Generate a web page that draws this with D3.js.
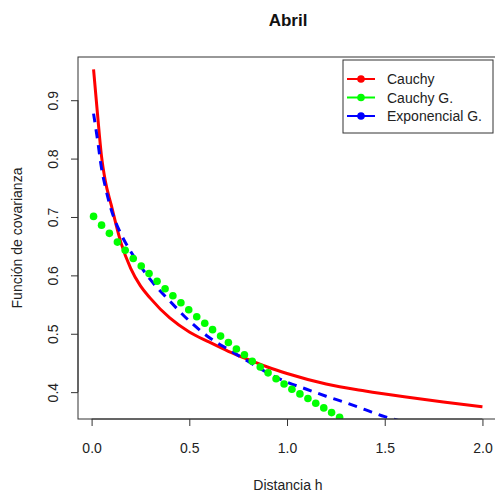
<!DOCTYPE html>
<html><head><meta charset="utf-8">
<script src="https://cdn.jsdelivr.net/npm/d3@7"></script>
<style>body{margin:0;background:#fff}svg{display:block;font-family:"Liberation Sans",Arial,sans-serif}</style>
</head><body><svg id="c" width="495" height="493"></svg>
<script>
const title = "Abril";
const xLabel = "Distancia h";
const yLabel = "Función de covarianza";
const xTicks = [0.0, 0.5, 1.0, 1.5, 2.0];
const yTicks = [0.4, 0.5, 0.6, 0.7, 0.8, 0.9];
const seriesNames = ["Cauchy", "Cauchy G.", "Exponencial G."];
const seriesColors = ["#ff0000", "#00ff00", "#0000ff"];

// Cauchy (solid red line)
const cauchyH = [0.01,0.03,0.05,0.07,0.1,0.15,0.2,0.25,0.3,0.4,0.5,0.6,0.7,0.8,0.9,1.0,1.2,1.4,1.6,1.8,2.0];
const cauchyV = [0.953,0.877,0.806,0.762,0.721,0.656,0.612,0.582,0.561,0.527,0.503,0.486,0.470,0.456,0.443,0.432,0.414,0.402,0.392,0.383,0.375];

// Cauchy G. (green points)
const cauchyGH = [0.010,0.051,0.091,0.132,0.172,0.213,0.254,0.294,0.335,0.376,0.416,0.457,0.497,0.538,0.579,0.619,0.660,0.700,0.741,0.782,0.822,0.863,0.903,0.944,0.985,1.025,1.066,1.107,1.147,1.188,1.228,1.269];
const cauchyGV = [0.701,0.686,0.672,0.657,0.643,0.629,0.616,0.603,0.590,0.577,0.565,0.553,0.541,0.529,0.518,0.507,0.496,0.485,0.474,0.464,0.453,0.443,0.433,0.423,0.414,0.405,0.397,0.389,0.381,0.373,0.365,0.357];

// Exponencial G. (dashed blue line)
const expGH = [0.01,0.03,0.05,0.07,0.1,0.15,0.2,0.25,0.3,0.4,0.5,0.6,0.7,0.8,0.9,1.0,1.1,1.2,1.3,1.4,1.5,1.6];
const expGV = [0.877,0.833,0.785,0.752,0.713,0.671,0.641,0.616,0.593,0.556,0.522,0.494,0.473,0.453,0.433,0.417,0.405,0.393,0.382,0.370,0.358,0.349];

const svg = d3.select("#c");
const L = 78, R = 498, T = 57, B = 419;
const x = d3.scaleLinear().domain([-0.0696, 2.0796]).range([L, R]);
const y = d3.scaleLinear().domain([0.354, 0.974]).range([B, T]);
const FONT = "Liberation Sans, Arial, sans-serif";

svg.append("defs").append("clipPath").attr("id","clip")
  .append("rect").attr("x",L).attr("y",T).attr("width",R-L).attr("height",B-T);

const g = svg.append("g").attr("clip-path","url(#clip)");

const line = d3.line().x(d=>x(d[0])).y(d=>y(d[1])).curve(d3.curveMonotoneX);

g.append("path").datum(cauchyH.map((h,i)=>[h,cauchyV[i]]))
  .attr("d",line).attr("fill","none").attr("stroke",seriesColors[0]).attr("stroke-width",3);

g.append("path").datum(expGH.map((h,i)=>[h,expGV[i]]))
  .attr("d",line).attr("fill","none").attr("stroke",seriesColors[2]).attr("stroke-width",3)
  .attr("stroke-dasharray","9,7");

g.selectAll("circle.g").data(cauchyGH.map((h,i)=>[h,cauchyGV[i]])).enter().append("circle")
  .attr("cx",d=>x(d[0])).attr("cy",d=>y(d[1])).attr("r",3.8).attr("fill",seriesColors[1]);

// box
svg.append("rect").attr("x",L).attr("y",T).attr("width",R-L).attr("height",B-T)
  .attr("fill","none").attr("stroke","#333").attr("stroke-width",1);

// x axis
const xa = svg.append("g").attr("transform",`translate(0,${B})`)
  .call(d3.axisBottom(x).tickValues(xTicks).tickFormat(d3.format(".1f")).tickSize(7).tickPadding(17));
xa.select(".domain").attr("d",`M${x(0)},0H${x(2)}`).attr("stroke","#333");
xa.selectAll(".tick line").attr("stroke","#333");
xa.selectAll("text").attr("font-size",14).attr("fill","#222").attr("font-family",FONT);

// y axis
const ya = svg.append("g").attr("transform",`translate(${L},0)`)
  .call(d3.axisLeft(y).tickValues(yTicks).tickFormat(d3.format(".1f")).tickSize(7).tickPadding(0));
ya.select(".domain").attr("d",`M0,${y(0.4)}V${y(0.9)}`).attr("stroke","#333");
ya.selectAll(".tick line").attr("stroke","#333");
ya.selectAll("text").attr("font-size",14).attr("fill","#222").attr("font-family",FONT)
  .attr("x",0).attr("dy",0).attr("text-anchor","middle")
  .attr("transform","translate(-20,0) rotate(-90)");

// titles
svg.append("text").attr("x",(L+R)/2).attr("y",26).attr("text-anchor","middle")
  .attr("font-weight","bold").attr("font-size",17).attr("fill","#111").text(title);
svg.append("text").attr("x",(L+R)/2).attr("y",490).attr("text-anchor","middle")
  .attr("font-size",14).attr("fill","#222").text(xLabel);
svg.append("text").attr("transform",`translate(22,${(T+B)/2}) rotate(-90)`).attr("text-anchor","middle")
  .attr("font-size",14).attr("fill","#222").text(yLabel);

// legend
const lg = svg.append("g");
lg.append("rect").attr("x",343).attr("y",60).attr("width",150).attr("height",73)
  .attr("fill","#fff").attr("stroke","#333").attr("stroke-width",1);
seriesNames.forEach((n,i)=>{
  const yy = 79 + i*18.5;
  lg.append("line").attr("x1",347).attr("x2",375).attr("y1",yy).attr("y2",yy)
    .attr("stroke",seriesColors[i]).attr("stroke-width",2);
  lg.append("circle").attr("cx",361).attr("cy",yy).attr("r",3.8).attr("fill",seriesColors[i]);
  lg.append("text").attr("x",387).attr("y",yy+5).attr("font-size",14).attr("fill","#222").text(n);
});
</script></body></html>
